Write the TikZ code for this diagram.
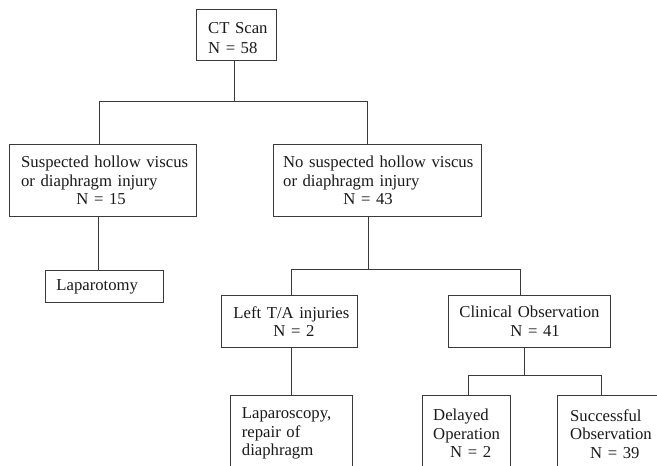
\documentclass[tikz,border=0pt]{standalone}
\usepackage{fontspec}
\setmainfont{Liberation Serif}
\setlength{\parindent}{0pt}
\newcommand\diagfont{\fontsize{16.7}{18.5}\selectfont}
\definecolor{ln}{HTML}{3A3A3A}
\definecolor{tx}{HTML}{1A1A1A}
\begin{document}
\begin{tikzpicture}[x=1pt,y=-1pt,
  boxbase/.style={inner xsep=0pt, inner ysep=0pt, align=left, font=\diagfont, text=tx, anchor=north west},
  box/.style={boxbase, draw=ln, line width=0.9pt},
  openbox/.style={boxbase},
  conn/.style={draw=ln, line width=0.9pt}]
\useasboundingbox (0,0) rectangle (657,466);
\clip (0,0) rectangle (657,466);
\fill[white] (0,0) rectangle (657,466);

% boxes (north west corner, text width = box width, minimum height = box height)
\node[box, text width=80pt, minimum height=51pt] (ct) at (196,9)
  {\hspace*{11.7pt}\rule{0pt}{17pt}CT Scan\\[1.5pt]\hspace*{11.7pt}N = 58};
\node[box, text width=187pt, minimum height=72pt] (susp) at (9,144)
  {\hspace*{11.7pt}Suspected hollow viscus\\\hspace*{11.7pt}or diaphragm injury\\\hspace*{67pt}N = 15};
\node[box, text width=208pt, minimum height=72pt] (nosusp) at (273,144)
  {\hspace*{9.7pt}No suspected hollow viscus\\\hspace*{9.7pt}or diaphragm injury\\\hspace*{70pt}N = 43};
\node[box, text width=118pt, minimum height=32pt] (lapt) at (45,270)
  {\hspace*{11pt}Laparotomy};
\node[box, text width=136pt, minimum height=52pt] (lta) at (221,295)
  {\hspace*{12pt}Left T/A injuries\\\hspace*{52pt}N = 2};
\node[box, text width=162pt, minimum height=52pt] (clin) at (448,295)
  {\hspace*{11pt}Clinical Observation\\\hspace*{62pt}N = 41};
\node[openbox, text width=122pt, minimum height=77pt] (lscopy) at (230,395)
  {\hspace*{11.7pt}Laparoscopy,\\\hspace*{11.7pt}repair of\\\hspace*{11.7pt}diaphragm};
\node[openbox, text width=88pt, minimum height=77pt] (delay) at (422,395)
  {\hspace*{11pt}Delayed\\\hspace*{11pt}Operation\\\hspace*{28pt}N = 2};
\node[openbox, text width=125pt, minimum height=77pt] (succ) at (557,395)
  {\hspace*{13pt}Successful\\\hspace*{13pt}Observation\\\hspace*{33pt}N = 39};

% open (cut) boxes at the bottom
\draw[conn] (lscopy.south west) -- (lscopy.north west) -- (lscopy.north east) -- (lscopy.south east);
\draw[conn] (delay.south west) -- (delay.north west) -- (delay.north east) -- (delay.south east);
\draw[conn] (succ.south west) -- (succ.north west) -- (succ.north east) -- (succ.south east);

% junction points
\coordinate (b1) at (234,101);
\coordinate (b1L) at (99,101);
\coordinate (b1R) at (367,101);
\coordinate (lx) at (98,243);
\coordinate (b2) at (368,269);
\coordinate (b2L) at (291,269);
\coordinate (b2R) at (520,269);
\coordinate (b3) at (524,375);
\coordinate (b3L) at (468,375);
\coordinate (b3R) at (601,375);

% connectors
\draw[conn] (ct.south -| b1) -- (b1);
\draw[conn] (susp.north -| b1L) -- (b1L) -- (b1R) -- (nosusp.north -| b1R);
\draw[conn] (susp.south -| lx) -- (lapt.north -| lx);
\draw[conn] (nosusp.south -| b2) -- (b2);
\draw[conn] (lta.north -| b2L) -- (b2L) -- (b2R) -- (clin.north -| b2R);
\draw[conn] (lta.south -| b2L) -- (lscopy.north -| b2L);
\draw[conn] (clin.south -| b3) -- (b3);
\draw[conn] (delay.north -| b3L) -- (b3L) -- (b3R) -- (succ.north -| b3R);
\end{tikzpicture}
\end{document}
